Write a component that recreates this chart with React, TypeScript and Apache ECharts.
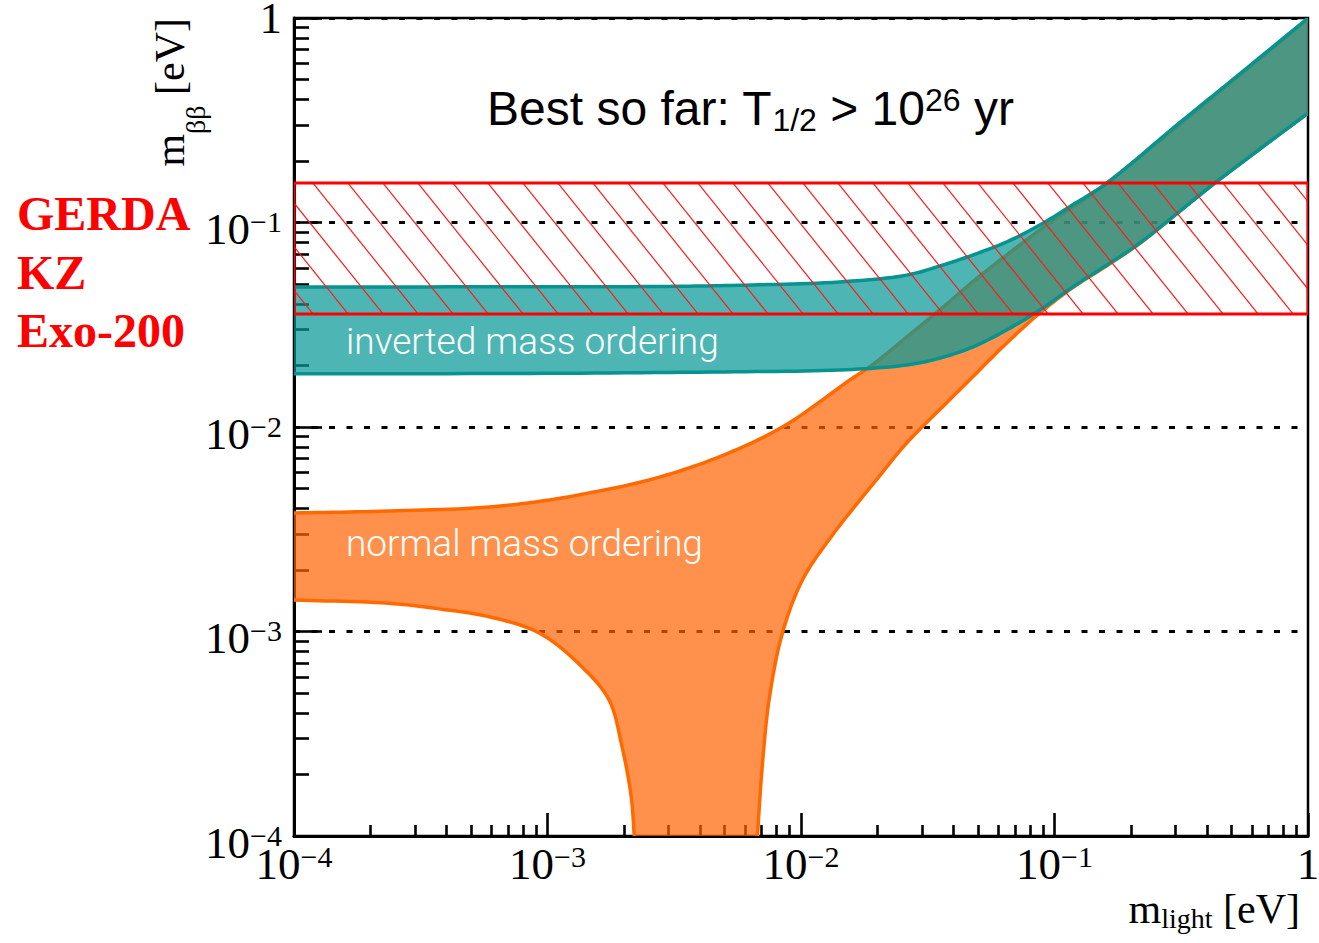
import React, { useEffect, useRef } from 'react';
import * as echarts from 'echarts';

// ---- axis ticks / labels ----
const majorTicks = [1e-4, 1e-3, 1e-2, 1e-1, 1];
const minorTicks: number[] = [];
for (let d = -4; d < 0; d++) {
  for (let k = 2; k <= 9; k++) minorTicks.push(Number((k * Math.pow(10, d)).toPrecision(3)));
}

// ---- inverted ordering band (m_light [eV], m_bb [eV]) ----
const ioUpper: [number, number][] = [
  [1e-4, 0.0484], [1e-3, 0.0485], [3e-3, 0.0487], [6e-3, 0.0494], [0.0142, 0.0512],
  [0.0261, 0.0553], [0.0352, 0.0612], [0.0475, 0.0693], [0.0647, 0.0803], [0.0875, 0.0972],
  [0.118, 0.122], [0.161, 0.156], [0.3, 0.296], [0.5, 0.495], [1, 1],
];
const ioLower: [number, number][] = [
  [1e-4, 0.0182], [1e-3, 0.0183], [5e-3, 0.0186], [0.0142, 0.019], [0.0261, 0.0201],
  [0.0352, 0.0217], [0.0475, 0.0246], [0.0647, 0.0298], [0.0875, 0.0373], [0.118, 0.0484],
  [0.161, 0.062], [0.217, 0.0794], [0.421, 0.153], [1, 0.343],
];

// ---- normal ordering band ----
const noUpper: [number, number][] = [
  [1e-4, 0.0038], [2.37e-4, 0.00388], [5.89e-4, 0.00406], [1.02e-3, 0.0044], [1.46e-3, 0.00476],
  [2.52e-3, 0.00551], [4.63e-3, 0.00705], [8.45e-3, 0.01], [0.0156, 0.017], [0.0191, 0.0201],
  [0.0261, 0.0275], [0.0352, 0.0373], [0.0475, 0.0512], [0.0647, 0.0693], [0.0875, 0.0919],
  [0.118, 0.119], [0.147, 0.143], [0.2, 0.193], [0.3, 0.29], [0.5, 0.488], [1, 0.99],
];
const noLowerRight: [number, number][] = [
  [6.73e-3, 1e-4], [7.05e-3, 2.28e-4], [7.51e-3, 4.78e-4], [8.45e-3, 9.84e-4], [0.01014, 1.79e-3],
  [0.0133, 2.96e-3], [0.0205, 5.8e-3], [0.0261, 8.35e-3], [0.0385, 0.01355], [0.0475, 0.01756],
  [0.0647, 0.0257], [0.0875, 0.0361], [0.118, 0.048], [0.161, 0.0615], [0.217, 0.079],
  [0.421, 0.153], [1, 0.343],
];
const noLowerLeft: [number, number][] = [
  [1e-4, 1.426e-3], [2.37e-4, 1.374e-3], [3.74e-4, 1.29e-3], [5.89e-4, 1.18e-3], [9.27e-4, 9.84e-4],
  [1.37e-3, 6.7e-4], [1.75e-3, 4.62e-4], [1.97e-3, 2.72e-4], [2.14e-3, 1.55e-4], [2.2e-3, 1e-4],
];

// ---- excluded region (GERDA / KZ / Exo-200) ----
const hatchRange = [0.0357, 0.156];
const xRange = [1e-4, 1];

const TEAL_FILL = 'rgba(4,152,151,0.71)';
const TEAL_LINE = '#07938f';
const ORANGE_FILL = 'rgba(255,98,0,0.7)';
const ORANGE_LINE = '#ff6a00';
const SERIF = 'Liberation Serif';

function fmtX(v: number) {
  const e = Math.round(Math.log10(v));
  if (e === 0) return '{b|1}';
  return `{b|10}{s|\u2212${-e}}`;
}
function fmtY(v: number) {
  const e = Math.round(Math.log10(v));
  if (e === 0) return '{one|1}';
  return `{bp|10}{sp|\u2212${-e}}`;
}

const labelRich = {
  b: { fontFamily: SERIF, fontSize: 45, lineHeight: 44, color: '#000', verticalAlign: 'top' },
  s: { fontFamily: SERIF, fontSize: 30, lineHeight: 30, color: '#000', verticalAlign: 'top' },
  one: { fontFamily: SERIF, fontSize: 45, lineHeight: 36, color: '#000', verticalAlign: 'middle' },
  bp: { fontFamily: SERIF, fontSize: 45, lineHeight: 44, color: '#000', verticalAlign: 'top', padding: [6, 0, 0, 0] },
  sp: { fontFamily: SERIF, fontSize: 30, lineHeight: 30, color: '#000', verticalAlign: 'top', padding: [6, 0, 0, 0] },
};

// centripetal Catmull-Rom through pixel points (render-time smoothing only)
function smoothPts(pts: number[][], n = 12): number[][] {
  if (pts.length < 3) return pts;
  const ext = [
    [2 * pts[0][0] - pts[1][0], 2 * pts[0][1] - pts[1][1]],
    ...pts,
    [2 * pts[pts.length - 1][0] - pts[pts.length - 2][0], 2 * pts[pts.length - 1][1] - pts[pts.length - 2][1]],
  ];
  const dist = (a: number[], b: number[]) => Math.max(1e-6, Math.sqrt(Math.hypot(b[0] - a[0], b[1] - a[1])));
  const lerp = (a: number[], b: number[], ta: number, tb: number, t: number) => {
    const w = (t - ta) / (tb - ta);
    return [a[0] * (1 - w) + b[0] * w, a[1] * (1 - w) + b[1] * w];
  };
  const out: number[][] = [];
  for (let i = 1; i < ext.length - 2; i++) {
    const p0 = ext[i - 1], p1 = ext[i], p2 = ext[i + 1], p3 = ext[i + 2];
    const t0 = 0, t1 = t0 + dist(p0, p1), t2 = t1 + dist(p1, p2), t3 = t2 + dist(p2, p3);
    for (let j = 0; j < n; j++) {
      const t = t1 + ((t2 - t1) * j) / n;
      const a1 = lerp(p0, p1, t0, t1, t), a2 = lerp(p1, p2, t1, t2, t), a3 = lerp(p2, p3, t2, t3, t);
      const b1 = lerp(a1, a2, t0, t2, t), b2 = lerp(a2, a3, t1, t3, t);
      out.push(lerp(b1, b2, t1, t2, t));
    }
  }
  out.push(pts[pts.length - 1]);
  return out;
}

export default function App() {
  const ref = useRef<HTMLDivElement>(null);
  useEffect(() => {
    if (!ref.current) return;
    const chart = echarts.init(ref.current, undefined, { renderer: 'svg' });
    const logAxis = { type: 'log', logBase: 10, min: xRange[0], max: xRange[1] };
    const tickStyle = { color: '#000', width: 2.6 };

    const bandRender = (upper: [number, number][], lowerParts: [number, number][][], fill: string, line: string) =>
      (params: any, api: any) => {
        const up = smoothPts(upper.map((p) => api.coord(p)));
        const lows = lowerParts.map((part) => smoothPts(part.map((p) => api.coord(p))));
        const poly: number[][] = [...up];
        for (let i = 0; i < lows.length; i++) poly.push(...lows[i].slice().reverse());
        const children: any[] = [
          { type: 'polygon', shape: { points: poly }, style: { fill, stroke: null } },
          { type: 'polyline', shape: { points: up }, style: { stroke: line, lineWidth: 3.5, fill: null, lineJoin: 'round' } },
        ];
        lows.forEach((pts) =>
          children.push({ type: 'polyline', shape: { points: pts }, style: { stroke: line, lineWidth: 3.5, fill: null, lineJoin: 'round' } })
        );
        return { type: 'group', children };
      };

    const hatchRender = (params: any, api: any) => {
      const p0 = api.coord([xRange[0], hatchRange[1]]);
      const p1 = api.coord([xRange[1], hatchRange[0]]);
      const x0 = p0[0], y0 = p0[1], x1 = p1[0], y1 = p1[1];
      const h = y1 - y0;
      const step = 35;
      const dx = step * 3;
      const children: any[] = [];
      let s = x0 + 19;
      while (s > x0 - dx) s -= step;
      for (; s < x1; s += step) {
        const ta = Math.max(0, (x0 - s) / dx);
        const tb = Math.min(1, (x1 - s) / dx);
        if (tb <= ta) continue;
        children.push({
          type: 'line',
          shape: { x1: s + ta * dx, y1: y0 + ta * h, x2: s + tb * dx, y2: y0 + tb * h },
          style: { stroke: '#ff1a1a', lineWidth: 1.2 },
        });
      }
      children.push({
        type: 'rect',
        shape: { x: x0, y: y0, width: x1 - x0, height: h },
        style: { fill: null, stroke: '#ff0000', lineWidth: 3 },
      });
      return { type: 'group', children };
    };

    const option: any = {
      animation: false,
      backgroundColor: '#fff',
      grid: {
        left: 294, right: 11, top: 18, bottom: 107, show: true, borderColor: '#000', borderWidth: 2.5,
        backgroundColor: 'transparent', containLabel: false, outerBoundsMode: 'none',
      },
      xAxis: [
        {
          ...logAxis, position: 'bottom',
          axisLine: { show: true, onZero: false, lineStyle: { color: '#000', width: 3 } },
          axisTick: { show: true, inside: true, length: 23, lineStyle: tickStyle, customValues: majorTicks },
          axisLabel: { show: true, customValues: majorTicks, formatter: fmtX, margin: 5, rich: labelRich },
          splitLine: { show: false }, minorTick: { show: false },
        },
        {
          ...logAxis, position: 'bottom',
          axisLine: { show: false },
          axisTick: { show: true, inside: true, length: 11, lineStyle: tickStyle, customValues: minorTicks },
          axisLabel: { show: false }, splitLine: { show: false },
        },
      ],
      yAxis: [
        {
          ...logAxis, position: 'left', splitNumber: 4,
          axisLine: { show: true, onZero: false, lineStyle: { color: '#000', width: 3 } },
          axisTick: { show: true, inside: true, length: 28, lineStyle: tickStyle, customValues: majorTicks },
          axisLabel: { show: true, customValues: majorTicks, formatter: fmtY, margin: 12, rich: labelRich },
          splitLine: { show: true, lineStyle: { color: '#000', width: 3.2, type: [6, 11.5] } },
          minorTick: { show: false },
        },
        {
          ...logAxis, position: 'left',
          axisLine: { show: false },
          axisTick: { show: true, inside: true, length: 15, lineStyle: tickStyle, customValues: minorTicks },
          axisLabel: { show: false }, splitLine: { show: false },
        },
      ],
      series: [
        {
          type: 'custom', coordinateSystem: 'cartesian2d', xAxisIndex: 0, yAxisIndex: 0, clip: true, silent: true,
          data: [[0.01, 0.01]], renderItem: bandRender(noUpper, [noLowerRight, noLowerLeft], ORANGE_FILL, ORANGE_LINE),
        },
        {
          type: 'custom', coordinateSystem: 'cartesian2d', xAxisIndex: 0, yAxisIndex: 0, clip: true, silent: true,
          data: [[0.01, 0.01]], renderItem: bandRender(ioUpper, [ioLower], TEAL_FILL, TEAL_LINE),
        },
        {
          type: 'custom', coordinateSystem: 'cartesian2d', xAxisIndex: 0, yAxisIndex: 0, clip: true, silent: true,
          data: [[0.01, 0.01]], renderItem: hatchRender,
        },
      ],
      graphic: [
        {
          type: 'text', x: 487, y: 108, z: 100,
          style: {
            text: '{m|Best so far: T}{sub|1/2}{m| > 10}{sup|26}{m| yr}',
            align: 'left', verticalAlign: 'middle',
            rich: {
              m: { fontFamily: 'Liberation Sans', fontSize: 48, lineHeight: 56, fill: '#000' },
              sub: { fontFamily: 'Liberation Sans', fontSize: 32, lineHeight: 38, verticalAlign: 'bottom', fill: '#000' },
              sup: { fontFamily: 'Liberation Sans', fontSize: 32, lineHeight: 37, verticalAlign: 'top', fill: '#000', padding: [4, 0, 0, 0] },
            },
          },
        },
        { type: 'text', x: 17, y: 213, z: 100, style: { text: 'GERDA', fontFamily: SERIF, fontWeight: 'bold', fontSize: 48, fill: '#ff0000', verticalAlign: 'middle' } },
        { type: 'text', x: 17, y: 272, z: 100, style: { text: 'KZ', fontFamily: SERIF, fontWeight: 'bold', fontSize: 48, fill: '#ff0000', verticalAlign: 'middle' } },
        { type: 'text', x: 17, y: 330, z: 100, style: { text: 'Exo-200', fontFamily: SERIF, fontWeight: 'bold', fontSize: 48, fill: '#ff0000', verticalAlign: 'middle' } },
        { type: 'text', x: 346, y: 341, z: 100, style: { text: 'inverted mass ordering', fontFamily: 'Roboto', fontWeight: 300, fontSize: 37, fill: '#ffffff', verticalAlign: 'middle' } },
        { type: 'text', x: 346, y: 543, z: 100, style: { text: 'normal mass ordering', fontFamily: 'Roboto', fontWeight: 300, fontSize: 37, fill: '#ffffff', verticalAlign: 'middle' } },
        {
          type: 'text', x: 149, y: 18, rotation: Math.PI / 2, z: 100,
          style: {
            text: '{m|m}{s|\u03b2\u03b2}{m| [eV]}', align: 'right', verticalAlign: 'top',
            rich: {
              m: { fontFamily: SERIF, fontSize: 42, lineHeight: 44, verticalAlign: 'top', fill: '#000' },
              s: { fontFamily: SERIF, fontSize: 28, lineHeight: 60, verticalAlign: 'bottom', fill: '#000' },
            },
          },
        },
        {
          type: 'text', x: 1300, y: 888, z: 100,
          style: {
            text: '{m|m}{s|light}{m| [eV]}', align: 'right', verticalAlign: 'top',
            rich: {
              m: { fontFamily: SERIF, fontSize: 42, lineHeight: 44, verticalAlign: 'top', fill: '#000' },
              s: { fontFamily: SERIF, fontSize: 28, lineHeight: 24, verticalAlign: 'bottom', fill: '#000' },
            },
          },
        },
      ],
    };
    chart.setOption(option);
    return () => chart.dispose();
  }, []);
  return (
    <div
      ref={ref}
      style={{ position: 'absolute', left: 0, top: 0, width: 1319, height: 943, background: '#fff' }}
    />
  );
}
